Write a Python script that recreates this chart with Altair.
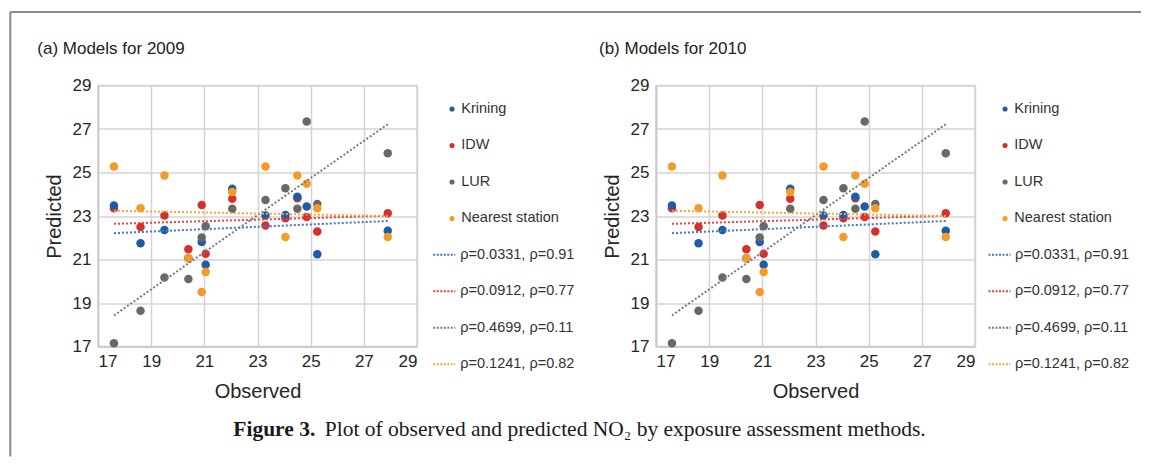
import altair as alt
import pandas as pd

# ---------------- data ----------------
methods = ["Krining", "IDW", "LUR", "Nearest station"]
observed = [17.6, 18.6, 19.5, 20.4, 20.9, 21.05, 22.05, 23.3, 24.05, 24.5, 24.85, 25.25, 27.9]
kriging = [23.48, 21.75, 22.36, 21.06, 21.8, 20.76, 24.25, 23.02, 23.05, 23.88, 23.44, 21.24, 22.32]
idw = [23.36, 22.49, 23.02, 21.47, 23.51, 21.26, 23.79, 22.56, 22.9, 23.82, 22.95, 22.29, 23.13]
lur = [17.15, 18.64, 20.17, 20.1, 22.01, 22.53, 23.33, 23.74, 24.28, 23.33, 27.34, 23.55, 25.88]
nearest = [25.28, 23.36, 24.86, 21.06, 19.51, 20.42, 24.1, 25.28, 22.03, 24.86, 24.48, 23.36, 22.03]

fit_labels = ["ρ=0.0331, ρ=0.91", "ρ=0.0912, ρ=0.77", "ρ=0.4699, ρ=0.11", "ρ=0.1241, ρ=0.82"]
fit_x = [17.6, 27.9]
fit_kriging = [22.21, 22.77]
fit_idw = [22.64, 23.01]
fit_lur = [18.43, 27.22]
fit_nearest = [23.24, 23.0]

ticks = [17, 19, 21, 23, 25, 27, 29]
titles = ["(a) Models for 2009", "(b) Models for 2010"]
caption_bold = "Figure 3."
caption_rest = "Plot of observed and predicted NO\u2082 by exposure assessment methods."

point_colors = ["#1f5ca8", "#d5302a", "#686868", "#f49a26"]
line_colors = ["#3f78bd", "#e0443c", "#7a7a7a", "#f6a53a"]

# ---------------- tables ----------------
series = [kriging, idw, lur, nearest]
pts = pd.DataFrame(
    [{"method": m, "observed": o, "predicted": p}
     for m, vals in zip(methods, series) for o, p in zip(observed, vals)]
)
fits = [fit_kriging, fit_idw, fit_lur, fit_nearest]
fit_df = pd.DataFrame(
    [{"label": l, "observed": x, "predicted": y}
     for l, ys in zip(fit_labels, fits) for x, y in zip(fit_x, ys)]
)
rest_df = pd.DataFrame({"t": [caption_rest]})
bold_df = pd.DataFrame({"t": [caption_bold]})

W, H = 319, 261
FONT = "Liberation Sans"


def panel(title, title_dx, lx, ly, lo, sx, sy, so, with_frame):
    xenc = alt.X("observed:Q", scale=alt.Scale(domain=[17, 29], nice=False, zero=False),
                 axis=alt.Axis(values=ticks, title="Observed"))
    yenc = alt.Y("predicted:Q", scale=alt.Scale(domain=[17, 29], nice=False, zero=False),
                 axis=alt.Axis(values=ticks, title="Predicted"))
    points = alt.Chart(pts).mark_circle(size=72, opacity=1).encode(
        x=xenc, y=yenc,
        fill=alt.Fill("method:N", scale=alt.Scale(domain=methods, range=point_colors),
                      legend=alt.Legend(orient="none", legendX=lx, legendY=ly, title=None,
                                        symbolType="circle", symbolSize=26, symbolStrokeWidth=0,
                                        labelFontSize=14.5, labelColor="#333333", labelFont=FONT,
                                        labelOffset=lo, rowPadding=21.5, padding=0)),
        order=alt.Order("method:N"),
    )
    lines = alt.Chart(fit_df).mark_line(strokeDash=[2, 2], strokeWidth=2).encode(
        x=xenc, y=yenc,
        stroke=alt.Stroke("label:N", scale=alt.Scale(domain=fit_labels, range=line_colors),
                          sort=fit_labels,
                          legend=alt.Legend(orient="none", legendX=sx, legendY=sy, title=None,
                                            symbolType="stroke", symbolSize=484, symbolStrokeWidth=2,
                                            symbolDash=[2, 1.5],
                                            labelFontSize=14.5, labelColor="#333333", labelFont=FONT,
                                            labelOffset=so, rowPadding=17.5, padding=0)),
    )
    title_df = pd.DataFrame({"t": [title]})
    head = alt.Chart(title_df).mark_text(font=FONT, fontSize=17, align="left", baseline="middle",
                                         color="#222222").encode(
        text="t:N", x=alt.value(title_dx), y=alt.value(-37))
    layers = [points, lines, head]
    if with_frame:
        frame_top = alt.Chart(bold_df).mark_rule(color="#8a8a8a", strokeWidth=2).encode(
            x=alt.value(-87.7), x2=alt.value(1043), y=alt.value(-73.5))
        frame_left = alt.Chart(bold_df).mark_rule(color="#8a8a8a", strokeWidth=2).encode(
            x=alt.value(-87.7), y=alt.value(-73.5), y2=alt.value(371))
        cap1 = alt.Chart(bold_df).mark_text(font="Liberation Serif", fontSize=21.5, fontWeight="bold",
                                            align="left", baseline="alphabetic", color="#1a1a1a").encode(
            text="t:N", x=alt.value(135.3), y=alt.value(350))
        cap2 = alt.Chart(rest_df).mark_text(font="Liberation Serif", fontSize=21.5,
                                            align="left", baseline="alphabetic", color="#1a1a1a").encode(
            text="t:N", x=alt.value(226.7), y=alt.value(350))
        layers += [frame_top, frame_left, cap1, cap2]
    return alt.layer(*layers).properties(width=W, height=H)


left = panel(titles[0], -60.7, 346.8, 16.2, 2, 334.3, 157.2, 4, True)
right = panel(titles[1], -57, 341.8, 16.2, 2, 331.5, 157.2, 3.5, False)

chart = alt.hconcat(left, right, spacing=239, bounds="flush").resolve_legend(
    fill="independent", stroke="independent"
).properties(
    padding={"left": 0, "top": 1.5, "right": 0, "bottom": 0}
).configure(
    font=FONT, background="white"
).configure_view(
    stroke="#d4d4d4", strokeWidth=1.5
).configure_axis(
    grid=True, gridColor="#d4d4d4", gridWidth=1.5,
    domainColor="#c8c8c8", domainWidth=1.5,
    ticks=False, labelPadding=7,
    labelFontSize=17, labelColor="#262626", labelFont=FONT,
    titleFontSize=20, titleColor="#262626", titleFont=FONT, titleFontWeight="normal",
).configure_axisX(titlePadding=12).configure_axisY(titlePadding=8)

chart.save("out.html", embed_options={"renderer": "svg", "actions": False})
